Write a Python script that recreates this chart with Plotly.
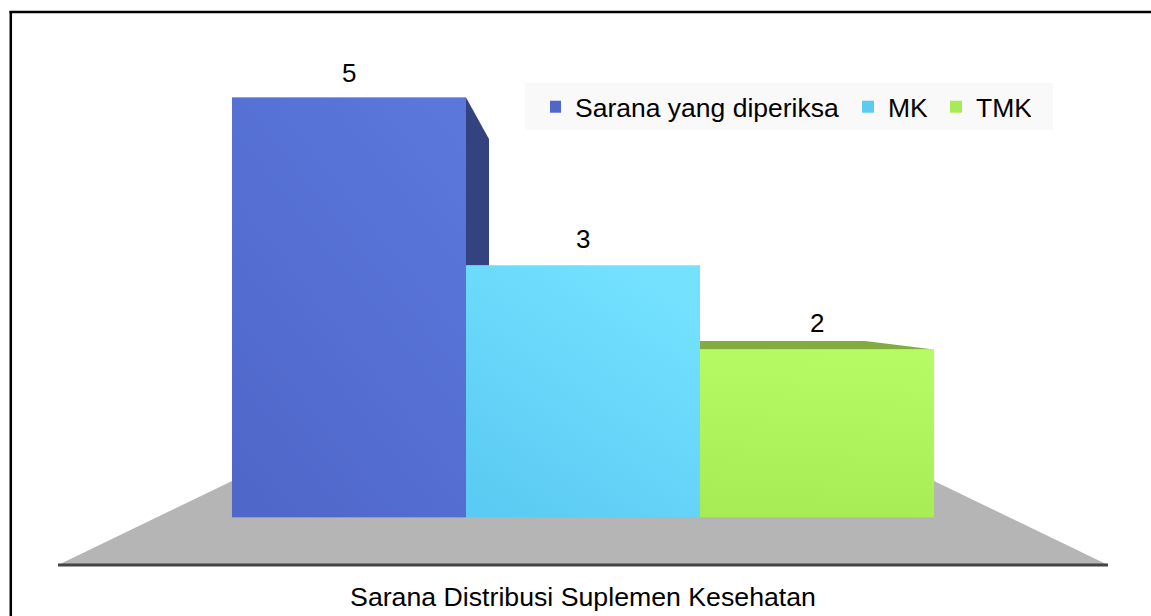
import base64
import plotly.graph_objects as go

W, H = 1151, 616

category = ["Sarana Distribusi Suplemen Kesehatan"]
series_names = ["Sarana yang diperiksa", "MK", "TMK"]
series_values = [5, 3, 2]
series_colors = ["#4f67c9", "#5ccbf3", "#a8ec55"]
legend_widths = [283, 58, 50]
# gradient direction (x1, y1, x2, y2) and highlight colour for each bar
gradient_dirs = [(0.85, 0, 0.15, 1), (0.8, 0, 0.2, 1), (0.55, 0, 0.45, 1)]
highlight_colors = ["#5b77dc", "#74e2ff", "#b6fb63"]

PLOT_L, PLOT_R = 58, 1108
BASE_Y = 517.5
PX_PER_UNIT = 84.0
BARGAP = 0.3314
Y_MAX = BASE_Y / PX_PER_UNIT
FONT = "Liberation Sans, Arial, sans-serif"


def px(x):
    return x / W


def py(y):
    return 1 - y / H


def y_of(v):
    return BASE_Y - PX_PER_UNIT * v


def poly(points, color):
    path = "M " + " L ".join(f"{px(x):.5f},{py(y):.5f}" for x, y in points) + " Z"
    return dict(type="path", xref="paper", yref="paper", path=path, fillcolor=color,
                line=dict(width=0), layer="below")


def rule(x0, y0, x1, y1, color, width):
    return dict(type="line", xref="paper", yref="paper", x0=px(x0), x1=px(x1), y0=py(y0), y1=py(y1),
                line=dict(color=color, width=width), layer="below")


band = (1 - BARGAP) / 3
fig = go.Figure()
for name, val, col, lw in zip(series_names, series_values, series_colors, legend_widths):
    fig.add_trace(go.Bar(x=category, y=[val], name=name, legendwidth=lw,
                         marker=dict(color=col, line=dict(width=0))))

bar_left = [583 + (i - 1.5) * band * (PLOT_R - PLOT_L) for i in range(3)]
bar_w = band * (PLOT_R - PLOT_L)

shapes = [
    poly([(58, 565), (232, 481), (934, 481), (1108, 565)], "#b5b5b5"),
    poly([(bar_left[1], y_of(series_values[0])), (489, y_of(series_values[0]) + 41.5),
          (489, y_of(series_values[1])), (bar_left[1], y_of(series_values[1]))], "#34437f"),
    poly([(bar_left[2], y_of(series_values[2])), (bar_left[2], y_of(series_values[2]) - 8.5),
          (865, y_of(series_values[2]) - 8.5), (bar_left[2] + bar_w, y_of(series_values[2]))], "#83ac3f"),
    rule(58, 565, 1108, 565, "#444444", 3),
    dict(type="rect", xref="paper", yref="paper", x0=px(525), x1=px(1053), y0=py(130), y1=py(83),
         fillcolor="#f9f9f9", line=dict(width=0), layer="below"),
    # frame: only the top and left edges are inside the picture
    rule(9.5, 12, W, 12, "#000000", 2.5),
    rule(10.8, 11, 10.8, H, "#000000", 2.5),
]

annotations = []
images = []
for i, (val, col, hi, d) in enumerate(zip(series_values, series_colors, highlight_colors, gradient_dirs)):
    cx = (i - 1) * band
    annotations.append(dict(x=cx, y=val, xref="x", yref="y", text=str(val), showarrow=False,
                            yanchor="bottom", yshift=10 if i else 8,
                            font=dict(family=FONT, size=26, color="#000000")))
    svg = ('<svg xmlns="http://www.w3.org/2000/svg" width="100" height="100" preserveAspectRatio="none">'
           f'<defs><linearGradient id="g" x1="{d[0]}" y1="{d[1]}" x2="{d[2]}" y2="{d[3]}">'
           f'<stop offset="0" stop-color="{hi}" stop-opacity="1"/>'
           f'<stop offset="1" stop-color="{col}" stop-opacity="1"/></linearGradient></defs>'
           '<rect width="100" height="100" fill="url(#g)"/></svg>')
    images.append(dict(source="data:image/svg+xml;base64," + base64.b64encode(svg.encode()).decode(),
                       xref="x", yref="y", x=cx - band / 2, y=val, sizex=band, sizey=val,
                       sizing="stretch", xanchor="left", yanchor="top", layer="above"))

fig.update_layout(
    width=W, height=H,
    margin=dict(l=0, r=0, t=0, b=0, pad=0),
    paper_bgcolor="#ffffff", plot_bgcolor="rgba(0,0,0,0)",
    barmode="group", bargap=BARGAP, bargroupgap=0,
    showlegend=True,
    legend=dict(orientation="h", x=px(550), y=py(107), xanchor="left", yanchor="middle",
                bgcolor="rgba(0,0,0,0)", borderwidth=0, itemwidth=30, indentation=-15,
                traceorder="normal", tracegroupgap=0,
                font=dict(family=FONT, size=26.5, color="#000000"),
                itemclick=False, itemdoubleclick=False),
    xaxis=dict(domain=[px(PLOT_L), px(PLOT_R)], type="category", range=[-0.5, 0.5], automargin=False,
               showgrid=False, zeroline=False, showline=False, ticks="outside", ticklen=55,
               tickcolor="rgba(0,0,0,0)",
               tickfont=dict(family=FONT, size=26.7, color="#000000")),
    yaxis=dict(domain=[py(BASE_Y), 1], range=[0, Y_MAX], automargin=False, visible=False),
    shapes=shapes, annotations=annotations, images=images,
    font=dict(family=FONT),
)

fig.write_html("out.html", config={"displayModeBar": False},
               post_script="document.body.style.margin='0';")
